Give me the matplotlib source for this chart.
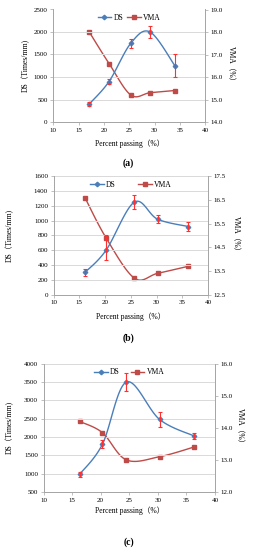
import numpy as np
import matplotlib
matplotlib.use("Agg")
import matplotlib.pyplot as plt

plt.rcParams['font.family'] = ['Liberation Serif', 'Noto Sans CJK SC']

# panel (a)
x_a = [17.1, 21.0, 25.3, 29.1, 34.0]
ds_a = [400, 900, 1750, 2000, 1250]
ds_err_a = [40, 50, 100, 130, 250]
vma_a = [18.0, 16.6, 15.2, 15.3, 15.4]

# panel (b)
x_b = [16.1, 20.2, 25.7, 30.2, 36.2]
ds_b = [300, 600, 1250, 1020, 920]
ds_err_lo_b = [45, 135, 90, 55, 65]
ds_err_hi_b = [45, 210, 90, 55, 65]
vma_b = [16.6, 14.9, 13.2, 13.4, 13.7]

# panel (c)
x_c = [16.3, 20.3, 24.5, 30.3, 36.3]
ds_c = [980, 1800, 3500, 2480, 2030]
ds_err_c = [70, 110, 250, 200, 80]
vma_c = [14.2, 13.85, 13.0, 13.1, 13.4]

BLUE = '#4A7EBB'
RED = '#BE4B48'
ERR = '#FF3030'
GRID = '#D9D9D9'
AXC = '#A6A6A6'


def smooth(x, y, n=30):
    # catmull-rom style bezier, like excel's smoothed line
    P = np.column_stack([np.asarray(x, float), np.asarray(y, float)])
    out = []
    for i in range(len(P) - 1):
        p0 = P[i - 1] if i > 0 else P[i]
        p1 = P[i]
        p2 = P[i + 1]
        p3 = P[i + 2] if i + 2 < len(P) else P[i + 1]
        c1 = p1 + (p2 - p0) / 6
        c2 = p2 - (p3 - p1) / 6
        t = np.linspace(0, 1, n)[:, None]
        seg = (1 - t) ** 3 * p1 + 3 * (1 - t) ** 2 * t * c1 + 3 * (1 - t) * t ** 2 * c2 + t ** 3 * p2
        out.append(seg if i == 0 else seg[1:])
    out = np.vstack(out)
    return out[:, 0], out[:, 1]


def panel(rect, x, ds, err, vma, ylim, yticks, rlim, rticks, label, cap_y,
          xlab_pad, ylab_pad, rlab_pad, colsp):
    ax = fig.add_axes(rect)
    ax2 = ax.twinx()
    ax.set_zorder(ax2.get_zorder() + 1)
    ax.patch.set_visible(False)

    sx, sy = smooth(x, vma)
    ax2.plot(sx, sy, color=RED, lw=1.0)
    ax2.plot(x, vma, ls='none', marker='s', ms=2.8, color=RED)

    sx, sy = smooth(x, ds)
    ax.plot(sx, sy, color=BLUE, lw=1.0)
    ax.plot(x, ds, ls='none', marker='D', ms=2.3, color=BLUE)
    ax.errorbar(x, ds, yerr=err, fmt='none', ecolor=ERR, elinewidth=0.8, capsize=1.5, capthick=0.8)

    ax.set_xlim(10, 40)
    ax.set_xticks(range(10, 41, 5))
    ax.set_ylim(*ylim)
    ax.set_yticks(yticks)
    ax2.set_ylim(*rlim)
    ax2.set_yticks(rticks)
    ax2.set_yticklabels(['%.1f' % v for v in rticks])
    ax.grid(axis='y', color=GRID, lw=0.7)
    ax.set_axisbelow(True)

    for a in (ax, ax2):
        a.spines['top'].set_visible(False)
        for s in ('left', 'right', 'bottom'):
            a.spines[s].set_color(AXC)
            a.spines[s].set_linewidth(0.7)
        a.tick_params(labelsize=5, length=2.5, width=0.5, color=AXC, pad=1.5)

    ax.set_xlabel('Percent passing（%）', fontsize=5.5, labelpad=xlab_pad)
    ax.set_ylabel('DS（Times/mm)', fontsize=5.5, labelpad=ylab_pad)
    ax2.set_ylabel('VMA（%）', fontsize=5.5, rotation=270, labelpad=rlab_pad)

    h1, = ax.plot([], [], color=BLUE, lw=1.0, marker='D', ms=2.3)
    h2, = ax.plot([], [], color=RED, lw=1.0, marker='s', ms=2.8)
    ax.legend([h1, h2], ['DS', 'VMA'], loc='upper center', bbox_to_anchor=(0.5, 1.0),
              ncol=2, frameon=False, fontsize=5.5, handlelength=1.8,
              columnspacing=colsp, handletextpad=0.3, borderaxespad=0.2)

    fig.text(0.5, 1 - cap_y / 550, label, ha='center', va='center',
             fontsize=7, fontweight='bold')
    return ax


fig = plt.figure(figsize=(2.57, 5.5), dpi=100)

panel([53.3 / 257, 1 - 122 / 550, 152 / 257, 112.5 / 550], x_a, ds_a, ds_err_a, vma_a,
      (0, 2500), range(0, 2501, 500), (14.0, 19.0), [14.0, 15.0, 16.0, 17.0, 18.0, 19.0],
      '(a)', 163, 5, 3, 8, 0.5)
panel([53.5 / 257, 1 - 294.7 / 550, 154.5 / 257, 118.5 / 550], x_b, ds_b, [ds_err_lo_b, ds_err_hi_b], vma_b,
      (0, 1600), range(0, 1601, 200), (12.5, 17.5), [12.5, 13.5, 14.5, 15.5, 16.5, 17.5],
      '(b)', 338, 5, 14, 10, 2.9)
panel([43.5 / 257, 1 - 492 / 550, 171.5 / 257, 128.3 / 550], x_c, ds_c, ds_err_c, vma_c,
      (500, 4000), range(500, 4001, 500), (12.0, 16.0), [12.0, 13.0, 14.0, 15.0, 16.0],
      '(c)', 542, 3, 7, 8, 1.4)

fig.savefig('out.png', dpi=100)
